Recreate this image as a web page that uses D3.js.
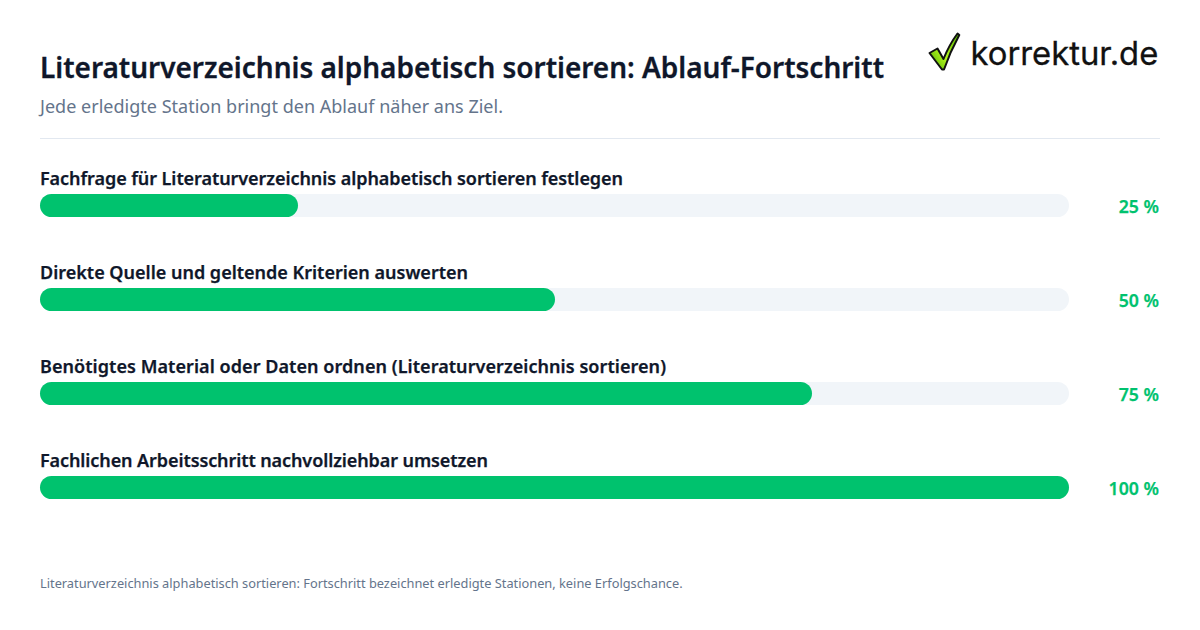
<!DOCTYPE html>
<html><head><meta charset="utf-8">
<script src="https://cdn.jsdelivr.net/npm/d3@7"></script>
<style>html,body{margin:0;padding:0;background:#fff}svg{display:block}text{font-family:"Noto Sans",sans-serif}</style>
</head><body><svg id="c" width="1200" height="630"></svg>
<script>
const titleText="Literaturverzeichnis alphabetisch sortieren: Ablauf-Fortschritt";
const subtitleText="Jede erledigte Station bringt den Ablauf näher ans Ziel.";
const footerText="Literaturverzeichnis alphabetisch sortieren: Fortschritt bezeichnet erledigte Stationen, keine Erfolgschance.";
const categories=["Fachfrage für Literaturverzeichnis alphabetisch sortieren festlegen","Direkte Quelle und geltende Kriterien auswerten","Benötigtes Material oder Daten ordnen (Literaturverzeichnis sortieren)","Fachlichen Arbeitsschritt nachvollziehbar umsetzen"];
const values=[25,50,75,100];
const labelWidths=[583,428,626,448];
const svg=d3.select("#c");
const x=d3.scaleLinear().domain([0,100]).range([40,1069]);
const y=d3.scalePoint().domain(categories).range([194,476]);
const ink="#0f172a", green="#00c26e", muted="#64748b";
svg.append("text").attr("x",40).attr("y",78).attr("font-size",28).attr("font-weight",600).attr("fill",ink).attr("stroke",ink).attr("stroke-width",0.3).attr("textLength",844).attr("lengthAdjust","spacing").text(titleText);
svg.append("text").attr("x",40).attr("y",113).attr("font-size",18).attr("fill",muted).attr("textLength",463).text(subtitleText);
svg.append("line").attr("x1",40).attr("x2",1160).attr("y1",138.5).attr("y2",138.5).attr("stroke","#e2e8f0");
const g=svg.selectAll("g.r").data(categories).join("g").attr("class","r");
g.append("text").attr("x",40).attr("y",d=>y(d)-9.5).attr("font-size",18).attr("font-weight",600).attr("fill",ink).attr("stroke",ink).attr("stroke-width",0.25).attr("textLength",(d,i)=>labelWidths[i]).attr("lengthAdjust","spacing").text(d=>d);
g.append("rect").attr("x",x(0)).attr("y",d=>y(d)).attr("width",x(100)-x(0)).attr("height",23).attr("rx",11.5).attr("fill","#f1f5f9");
g.append("rect").attr("x",x(0)).attr("y",d=>y(d)).attr("width",(d,i)=>Math.ceil(x(values[i])-x(0))).attr("height",23).attr("rx",11.5).attr("fill",green);
g.append("text").attr("x",1159).attr("y",d=>y(d)+19).attr("text-anchor","end").attr("font-size",17.7).attr("font-weight",600).attr("fill",green).attr("stroke",green).attr("stroke-width",0.25).text((d,i)=>values[i]+" %");
svg.append("text").attr("x",40).attr("y",588).attr("font-size",12.8).attr("fill",muted).text(footerText);
svg.append("text").attr("x",970.5).attr("y",65).style("font-family","Inter").attr("font-size",32.8).attr("fill","#111").attr("stroke","#111").attr("stroke-width",0.3).text("korrektur.de");
const defs=svg.append("defs");
const lg=defs.append("linearGradient").attr("id","chk").attr("x1","0").attr("y1","0.9").attr("x2","1").attr("y2","0.1");
[[0,"#4fb000"],[0.45,"#b4f51e"],[1,"#5cc000"]].forEach(s=>lg.append("stop").attr("offset",s[0]).attr("stop-color",s[1]));
svg.append("path").attr("d","M929.5 53 L937.5 48.5 L943.5 59 Q949 45 957.5 33.5 L959.3 35 Q950 52 944 69.5 L942 69.5 Z").attr("fill","url(#chk)").attr("stroke","#111").attr("stroke-width",2).attr("stroke-linejoin","round");
</script></body></html>
